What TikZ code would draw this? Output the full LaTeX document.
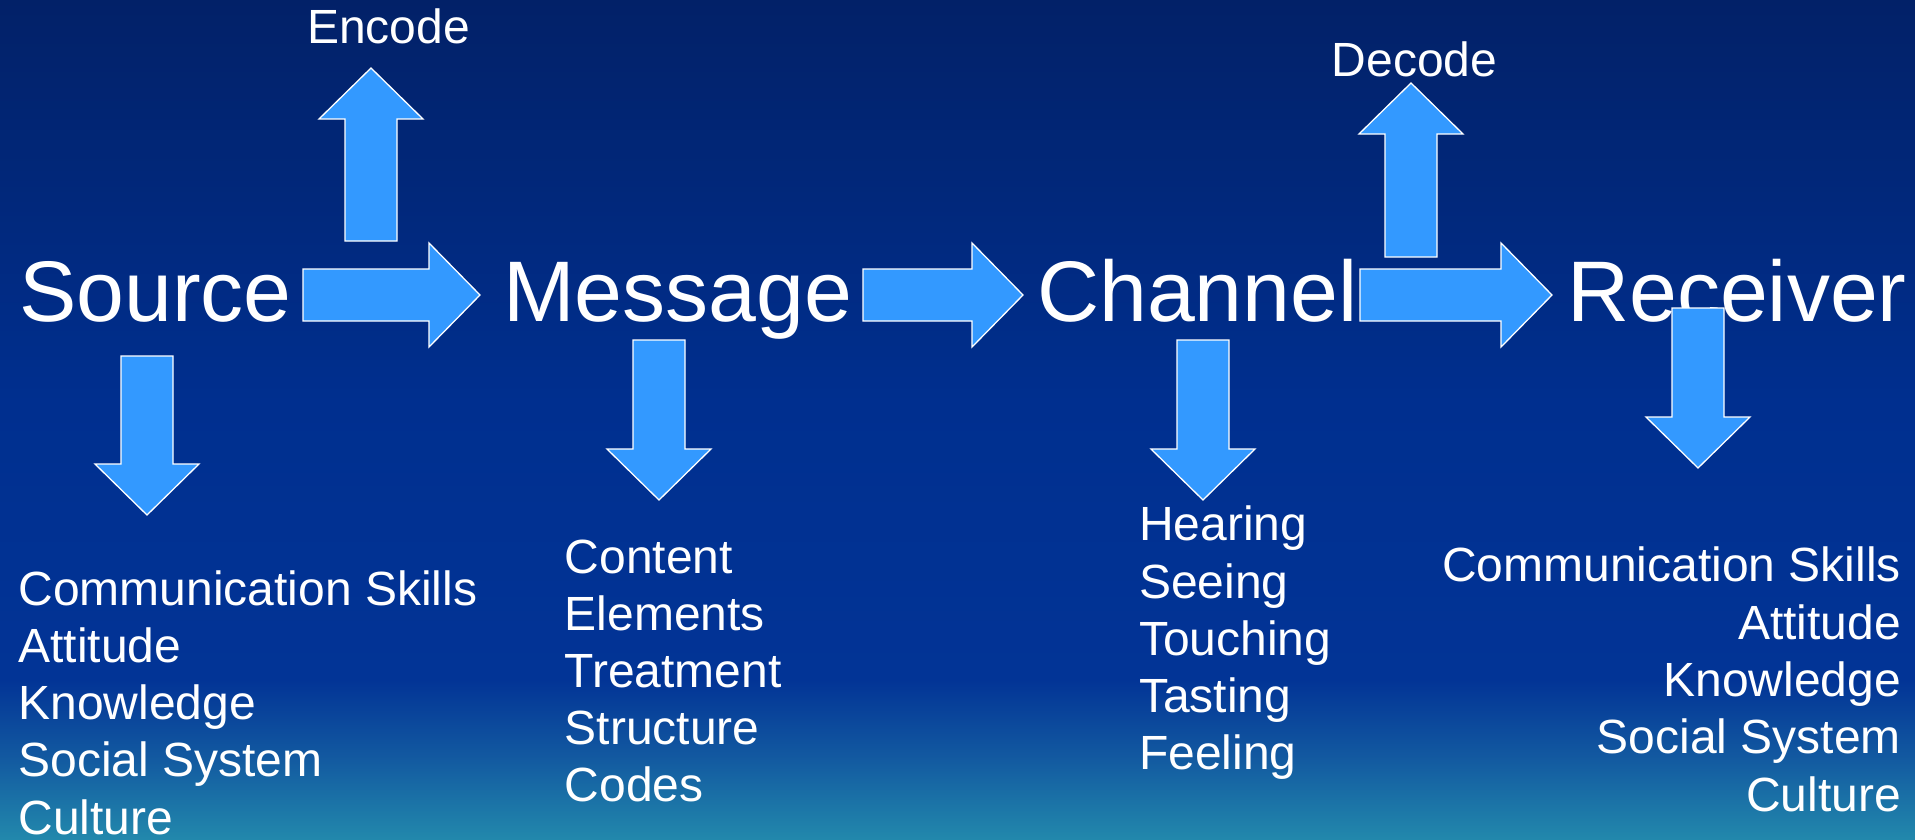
\documentclass[tikz,border=0pt]{standalone}
\usepackage{fontspec}
\setmainfont{Liberation Sans}

\definecolor{bgnavy}{RGB}{2,33,104}
\definecolor{bgroyal}{RGB}{0,47,143}
\definecolor{bgblue}{RGB}{2,52,150}
\definecolor{bgmid}{RGB}{18,88,160}
\definecolor{bgteal}{RGB}{34,136,172}
\definecolor{arrowblue}{RGB}{51,153,255}

\pgfdeclareverticalshading{slidebg}{100bp}{color(0bp)=(bgteal); color(25bp)=(bgteal); color(30bp)=(bgmid); color(34.5bp)=(bgblue); color(51bp)=(bgroyal); color(75bp)=(bgnavy); color(100bp)=(bgnavy)}

\tikzset{
  stage/.style={text=white, font=\fontsize{86}{100}\selectfont, inner sep=0, anchor=base west},
  item/.style={text=white, font=\fontsize{48}{57}\selectfont, inner sep=0, anchor=base west},
  arrowbox/.style={fill=arrowblue, draw=white, line width=1.3pt, line join=miter}
}

% block arrow: tail centre x, y, length, direction
\newcommand{\blockarrow}[4]{\filldraw[arrowbox, shift={(#1,#2)}, rotate=#4] (0,-26) -- ({#3-51},-26) -- ({#3-51},-52) -- (#3,0) -- ({#3-51},52) -- ({#3-51},26) -- (0,26) -- cycle;}

\begin{document}
\begin{tikzpicture}[x=1pt,y=-1pt]
  \useasboundingbox (0,0) rectangle (1915,839);
  \shade[shading=slidebg] (0,0) rectangle (1915,839);

  \node[stage] (src) at (19,321.5) {Source};
  \node[stage] (msg) at (503,321.5) {Message};
  \node[stage] (chn) at (1037,321.5) {Channel};
  \node[stage] (rcv) at (1567,321.5) {Receiver};

  \node[item] (enc) at (307,43.3) {Encode};
  \node[item] (dec) at (1331.5,76.5) {Decode};

  \foreach \t [count=\i from 0] in {Communication Skills,Attitude,Knowledge,Social System,Culture}
    \node[item] (srcitem\i) at (18.3,605+57.3*\i) {\t};
  \foreach \t [count=\i from 0] in {Content,Elements,Treatment,Structure,Codes}
    \node[item] (msgitem\i) at (564.5,573.3+57.1*\i) {\t};
  \foreach \t [count=\i from 0] in {Hearing,Seeing,Touching,Tasting,Feeling}
    \node[item] (chnitem\i) at (1139,540.7+57.3*\i) {\t};
  \foreach \t [count=\i from 0] in {Communication Skills,Attitude,Knowledge,Social System,Culture}
    \node[item, anchor=base east] (rcvitem\i) at (1901,581.7+57.4*\i) {\t};

  \blockarrow{303}{295}{177}{0}
  \blockarrow{863}{295}{160}{0}
  \blockarrow{1360}{295}{192}{0}
  \blockarrow{371}{241}{173}{90}
  \blockarrow{1411}{257}{174}{90}
  \blockarrow{147}{356}{159}{-90}
  \blockarrow{659}{340}{160}{-90}
  \blockarrow{1203}{340}{160}{-90}
  \blockarrow{1698}{308}{160}{-90}
\end{tikzpicture}
\end{document}
